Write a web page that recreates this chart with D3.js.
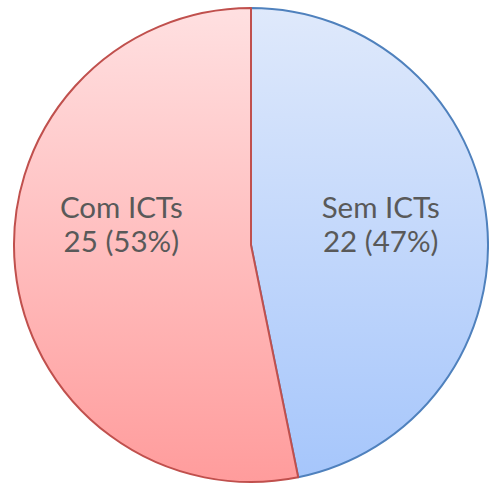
<!DOCTYPE html>
<html><head><meta charset="utf-8">
<script src="https://cdn.jsdelivr.net/npm/d3@7"></script>
<style>body{margin:0;background:#fff}</style>
</head><body>
<svg id="c" width="489" height="486"></svg>
<script>
const categories = ["Sem ICTs", "Com ICTs"];
const values = [22, 25];
const percents = ["47%", "53%"];
const fillTop = ["#dfe9fb", "#ffe0e1"];
const fillBottom = ["#a6c6fb", "#ff9c9c"];
const strokes = ["#4f81bd", "#c0504d"];

const svg = d3.select("#c");
const cx = 251, cy = 245, r = 237;
const defs = svg.append("defs");
categories.forEach((c, i) => {
  const g = defs.append("linearGradient").attr("id", "g" + i)
    .attr("x1", 0).attr("y1", 0).attr("x2", 0).attr("y2", 1);
  g.append("stop").attr("offset", "0%").attr("stop-color", fillTop[i]);
  g.append("stop").attr("offset", "100%").attr("stop-color", fillBottom[i]);
});
const pie = d3.pie().sort(null).value(d => d)(values);
const arc = d3.arc().innerRadius(0).outerRadius(r);
const g = svg.append("g").attr("transform", `translate(${cx},${cy})`);
g.selectAll("path").data(pie).join("path")
  .attr("d", arc)
  .attr("fill", (d, i) => `url(#g${i})`)
  .attr("stroke", (d, i) => strokes[i])
  .attr("stroke-width", 2)
  .attr("stroke-linejoin", "round");
const labelArc = d3.arc().innerRadius(r * 0.55).outerRadius(r * 0.55);
const lbl = g.selectAll("text").data(pie).join("text")
  .attr("text-anchor", "middle")
  .attr("font-family", "Lato, 'Open Sans', sans-serif")
  .attr("font-size", 29.5)
  .attr("fill", "#595959")
  .attr("transform", d => {
    const [x] = labelArc.centroid(d);
    return `translate(${x},-12)`;
  });
lbl.append("tspan").attr("x", 0).attr("y", -15).text((d, i) => categories[i]);
lbl.append("tspan").attr("x", 0).attr("y", 19).text((d, i) => `${values[i]} (${percents[i]})`);
</script>
</body></html>
